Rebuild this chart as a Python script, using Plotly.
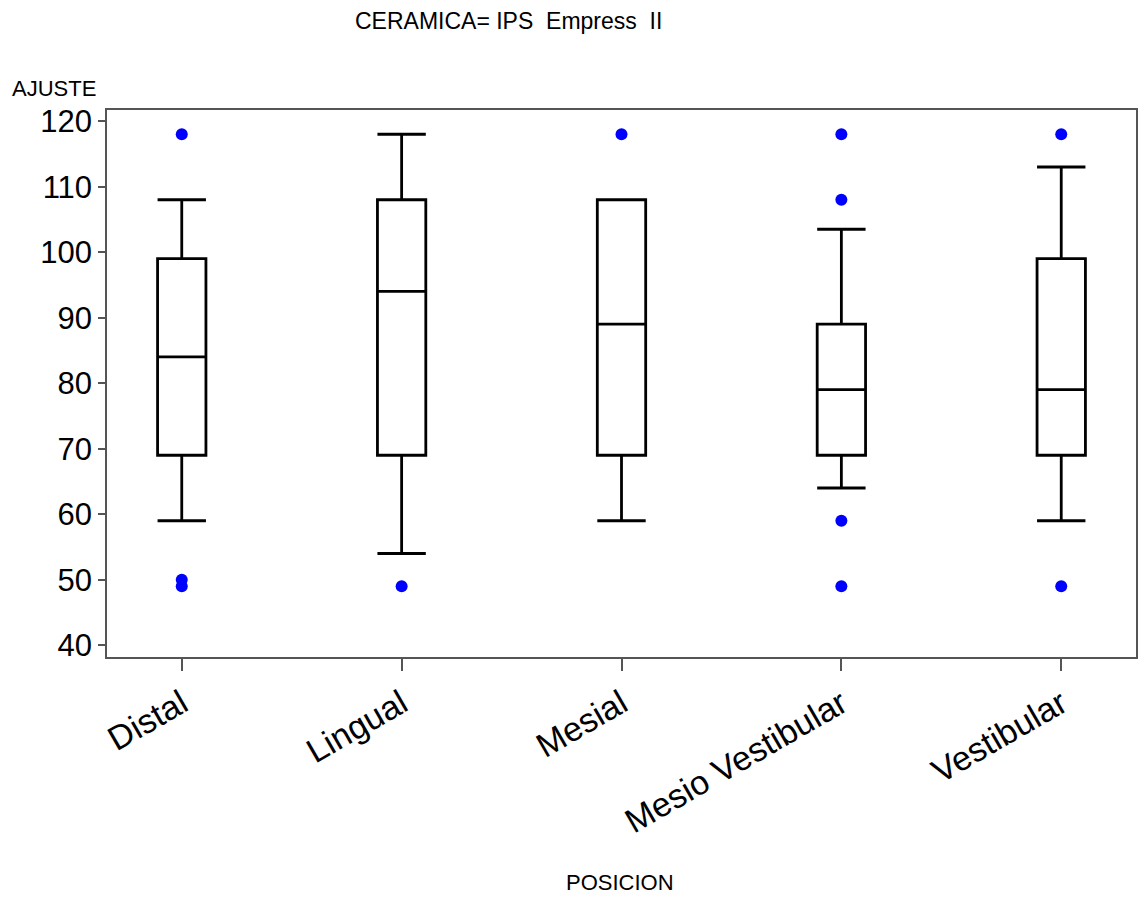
import plotly.graph_objects as go

# Box statistics per position
posicion = ["Distal", "Lingual", "Mesial", "Mesio Vestibular", "Vestibular"]
lower_whisker = [59, 54, 59, 64, 59]
q1 = [69, 69, 69, 69, 69]
median = [84, 94, 89, 79, 79]
q3 = [99, 108, 108, 89, 99]
upper_whisker = [108, 118, 108, 103.5, 113]

# Outlying observations
outlier_pos = ["Distal", "Distal", "Distal", "Lingual", "Mesial",
               "Mesio Vestibular", "Mesio Vestibular", "Mesio Vestibular", "Mesio Vestibular",
               "Vestibular", "Vestibular"]
outlier_val = [118, 50, 49, 49, 118,
               118, 108, 59, 49,
               118, 49]

FONT = "Liberation Sans, Arial, Helvetica, sans-serif"

fig = go.Figure()

fig.add_trace(go.Box(
    x=posicion,
    q1=q1,
    median=median,
    q3=q3,
    lowerfence=lower_whisker,
    upperfence=upper_whisker,
    width=0.22,
    whiskerwidth=1,
    boxpoints=False,
    fillcolor="rgba(255,255,255,0)",
    line=dict(color="black", width=2.8),
    showlegend=False,
    hoverinfo="skip",
))

fig.add_trace(go.Scatter(
    x=outlier_pos,
    y=outlier_val,
    mode="markers",
    marker=dict(color="#0000ff", size=12),
    showlegend=False,
))

axis_line = "#555555"

fig.update_layout(
    width=1143,
    height=902,
    margin=dict(l=107, r=5, t=110, b=245),
    plot_bgcolor="white",
    paper_bgcolor="white",
    font=dict(family=FONT, color="black"),
    xaxis=dict(
        range=[-0.34, 4.34],
        showline=True, linecolor=axis_line, linewidth=1.5, mirror=True,
        showgrid=False, zeroline=False,
        ticks="outside", ticklen=12, tickcolor=axis_line, tickwidth=1.5,
        tickangle=-30,
        tickfont=dict(size=34, family=FONT, color="black"),
    ),
    yaxis=dict(
        range=[38.2, 121.7],
        tickvals=[40, 50, 60, 70, 80, 90, 100, 110, 120],
        showline=True, linecolor=axis_line, linewidth=1.5, mirror=True,
        showgrid=False, zeroline=False,
        ticks="outside", ticklen=7, tickcolor=axis_line, tickwidth=1.5,
        tickfont=dict(size=31, family=FONT, color="black"),
    ),
    annotations=[
        dict(text="CERAMICA= IPS  Empress  II", xref="paper", yref="paper",
             x=0.39, y=1.162, xanchor="center", yanchor="middle",
             showarrow=False, font=dict(size=23, family=FONT, color="black")),
        dict(text="AJUSTE", xref="paper", yref="paper",
             x=-0.094, y=1.04, xanchor="left", yanchor="middle",
             showarrow=False, font=dict(size=22, family=FONT, color="black")),
        dict(text="POSICION", xref="paper", yref="paper",
             x=0.499, y=-0.413, xanchor="center", yanchor="middle",
             showarrow=False, font=dict(size=22, family=FONT, color="black")),
    ],
)

fig.write_html("out.html")
